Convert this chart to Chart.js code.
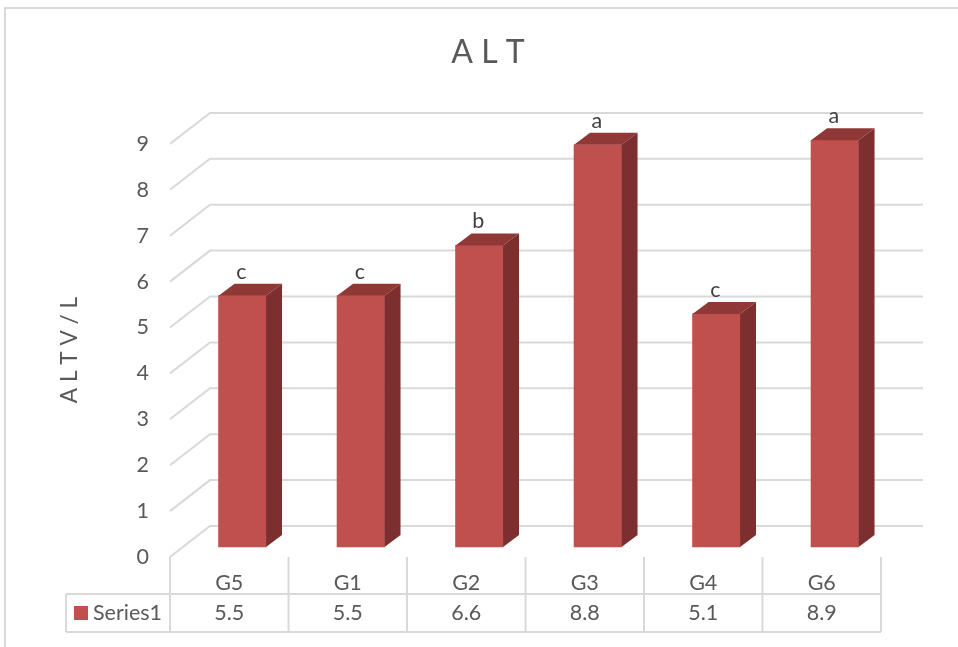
<!DOCTYPE html>
<html lang="en">
<head>
  <meta charset="UTF-8">
  <title>ALT</title>
  <script src="https://cdn.jsdelivr.net/npm/chart.js"></script>
  <style>
    html, body { margin: 0; padding: 0; background: #fff; }
    canvas { display: block; }
  </style>
</head>
<body>
<canvas id="altChart" width="958" height="647"></canvas>

<script>
  const categories = ["G5", "G1", "G2", "G3", "G4", "G6"];
  const values = [5.5, 5.5, 6.6, 8.8, 5.1, 8.9];
  const letters = ["c", "c", "b", "a", "c", "a"];
  const seriesName = "Series1";
  const chartTitle = "A L T";
  const axisTitle = "A L T V / L";

  const FONT = "Lato, 'Open Sans', sans-serif";
  const TEXT = "#595959";
  const LINE = "#d9d9d9";
  const LABEL_SIZE = 21.5;

  // wall and bar extrusion offsets
  const WALL_DX = 40, WALL_DY = 31, WALL_RIGHT = 923;
  const BAR_DX = 16, BAR_DY = 12;

  // table under the plot
  const TABLE_LEFT = 66, TABLE_TOP = 594, TABLE_BOTTOM = 632;

  function stroke(ctx, points) {
    ctx.beginPath();
    points.forEach((p, i) => i ? ctx.lineTo(p[0], p[1]) : ctx.moveTo(p[0], p[1]));
    ctx.stroke();
  }

  function fillPoly(ctx, color, points) {
    ctx.fillStyle = color;
    ctx.beginPath();
    points.forEach((p, i) => i ? ctx.lineTo(p[0], p[1]) : ctx.moveTo(p[0], p[1]));
    ctx.closePath();
    ctx.fill();
  }

  const frame3d = {
    id: "frame3d",
    beforeDraw(chart) {
      const ctx = chart.ctx;
      ctx.save();
      ctx.fillStyle = "#fff";
      ctx.fillRect(0, 0, chart.width, chart.height);
      ctx.strokeStyle = LINE;
      ctx.lineWidth = 2;
      stroke(ctx, [[5, chart.height], [5, 8], [chart.width, 8]]);

      // chart title and the vertical axis title sit off-centre from the plot
      ctx.fillStyle = TEXT;
      ctx.textAlign = "center";
      ctx.textBaseline = "middle";
      ctx.font = "32px " + FONT;
      ctx.fillText(chartTitle, 488, 53);
      ctx.translate(70, 350);
      ctx.rotate(-Math.PI / 2);
      ctx.font = "22.6px " + FONT;
      ctx.fillText(axisTitle, 0, 0);
      ctx.restore();
    },
    beforeDatasetsDraw(chart) {
      const ctx = chart.ctx;
      const y = chart.scales.y;
      const left = chart.chartArea.left;
      ctx.save();
      ctx.strokeStyle = LINE;
      ctx.lineWidth = 2;
      y.ticks.forEach(t => {
        const py = y.getPixelForValue(t.value);
        stroke(ctx, [[left, py], [left + WALL_DX, py - WALL_DY], [WALL_RIGHT, py - WALL_DY]]);
      });
      ctx.restore();
    },
    afterDatasetsDraw(chart) {
      const ctx = chart.ctx;
      const bars = chart.getDatasetMeta(0).data;
      ctx.save();
      bars.forEach((bar, i) => {
        const l = bar.x - bar.width / 2, r = bar.x + bar.width / 2;
        // top face
        fillPoly(ctx, "#903836", [[l, bar.y], [l + BAR_DX, bar.y - BAR_DY], [r + BAR_DX, bar.y - BAR_DY], [r, bar.y]]);
        // side face
        fillPoly(ctx, "#7c2f2e", [[r, bar.y], [r + BAR_DX, bar.y - BAR_DY], [r + BAR_DX, bar.base - BAR_DY], [r, bar.base]]);
        // significance letter
        ctx.fillStyle = "#404040";
        ctx.font = LABEL_SIZE + "px " + FONT;
        ctx.textAlign = "center";
        ctx.textBaseline = "middle";
        ctx.fillText(letters[i], bar.x - 1, bar.y - BAR_DY - 12);
      });
      ctx.restore();
    },
    afterDraw(chart) {
      const ctx = chart.ctx;
      const x = chart.scales.x;
      const { left, right, bottom } = chart.chartArea;
      const cell = (right - left) / categories.length;
      ctx.save();
      ctx.strokeStyle = LINE;
      ctx.lineWidth = 2;
      // table outline and rows
      stroke(ctx, [[TABLE_LEFT, TABLE_TOP], [right, TABLE_TOP]]);
      stroke(ctx, [[TABLE_LEFT, TABLE_BOTTOM], [right, TABLE_BOTTOM]]);
      stroke(ctx, [[TABLE_LEFT, TABLE_TOP], [TABLE_LEFT, TABLE_BOTTOM]]);
      for (let i = 0; i <= categories.length; i++) {
        const px = left + i * cell;
        stroke(ctx, [[px, bottom], [px, TABLE_BOTTOM]]);
      }
      // legend key and series row
      const rowY = (TABLE_TOP + TABLE_BOTTOM) / 2;
      ctx.fillStyle = "#c0504d";
      ctx.fillRect(74, 606, 14, 14);
      ctx.fillStyle = TEXT;
      ctx.font = LABEL_SIZE + "px " + FONT;
      ctx.textBaseline = "middle";
      ctx.textAlign = "left";
      ctx.fillText(seriesName, 93, rowY);
      ctx.textAlign = "center";
      values.forEach((v, i) => ctx.fillText(v.toFixed(1), x.getPixelForValue(i), rowY));
      ctx.restore();
    }
  };

  new Chart(document.getElementById("altChart"), {
    type: "bar",
    data: {
      labels: categories,
      datasets: [{
        label: seriesName,
        data: values.map((v, i) => ({ x: i, y: v })),
        xAxisID: "xBar",
        yAxisID: "yBar",
        backgroundColor: "#c0504d",
        borderWidth: 0,
        barThickness: 47.5
      }]
    },
    options: {
      responsive: false,
      animation: false,
      layout: { padding: { left: 0, right: 77, top: 98, bottom: 0 } },
      plugins: {
        legend: { display: false },
        tooltip: { enabled: false },
        title: { display: false }
      },
      scales: {
        x: {
          type: "category",
          offset: true,
          grid: { display: false },
          border: { display: false },
          ticks: { color: TEXT, font: { family: FONT, size: LABEL_SIZE }, padding: 5, maxRotation: 0 },
          afterFit: s => { s.height = 90; }
        },
        y: {
          min: 0,
          max: 10,
          grid: { display: false },
          border: { display: false },
          ticks: { stepSize: 1, color: TEXT, font: { family: FONT, size: LABEL_SIZE }, padding: 13 },
          afterBuildTicks: s => { s.ticks = s.ticks.filter(t => t.value <= 9); },
          afterFit: s => { s.width = 170; }
        },
        // the bars stand inside the floor, slightly behind and right of the front edge
        xBar: { type: "linear", display: false, offset: false, min: -0.61, max: 5.39 },
        yBar: { type: "linear", display: false, min: -0.2188, max: 9.825 }
      }
    },
    plugins: [frame3d]
  });
</script>
</body>
</html>
